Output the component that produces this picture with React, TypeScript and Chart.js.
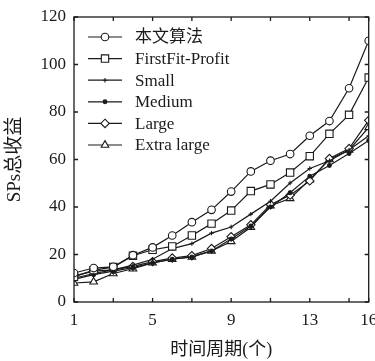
import { useEffect, useRef } from 'react';
import { Chart, registerables } from 'chart.js';

Chart.register(...registerables);

const periods = [1, 2, 3, 4, 5, 6, 7, 8, 9, 10, 11, 12, 13, 14, 15, 16];
const seriesNames = ['本文算法', 'FirstFit-Profit', 'Small', 'Medium', 'Large', 'Extra large'];
const oursValues = [12.2, 14.3, 14.8, 19.7, 23.0, 28.0, 33.6, 38.8, 46.5, 55.0, 59.5, 62.3, 70.0, 76.2, 90.0, 110.0];
const firstFitValues = [10.6, 13.4, 14.7, 19.5, 22.0, 23.4, 28.0, 33.0, 38.5, 46.7, 49.5, 54.5, 61.4, 70.8, 78.8, 94.5];
const smallValues = [10.0, 12.0, 13.5, 15.5, 18.0, 22.5, 24.6, 29.0, 31.6, 37.0, 42.4, 50.1, 56.2, 59.5, 64.0, 70.0];
const mediumValues = [9.5, 11.5, 13.0, 14.5, 16.5, 18.0, 19.0, 21.5, 26.5, 32.0, 40.0, 46.0, 53.0, 57.5, 62.5, 68.0];
const largeValues = [11.0, 13.0, 13.5, 15.0, 17.0, 18.5, 19.5, 22.5, 27.5, 32.5, 41.0, 45.0, 51.0, 60.4, 64.6, 76.5];
const extraLargeValues = [8.0, 8.5, 12.0, 14.0, 16.5, 18.0, 19.0, 21.5, 25.5, 31.5, 40.5, 43.6, 51.5, 60.0, 64.0, 73.5];
const xTickValues = [1, 5, 9, 13, 16];
const xMinorTickValues = [3, 7, 11, 15];
const yTickValues = [0, 20, 40, 60, 80, 100, 120];
const xTitle = '时间周期(个)';
const yTitle = 'SPs总收益';

const INK = '#1a1a1a';
const FONT_FAMILY = "'Liberation Serif', 'Noto Sans CJK SC', serif";

function drawMarker(ctx: CanvasRenderingContext2D, style: string, x: number, y: number, r: number, fill: string) {
  ctx.save();
  ctx.beginPath();
  ctx.fillStyle = fill;
  ctx.strokeStyle = INK;
  ctx.lineWidth = 1.1;
  if (style === 'circle') {
    ctx.arc(x, y, r, 0, Math.PI * 2);
    ctx.fill();
    ctx.stroke();
  } else if (style === 'rect') {
    const s = Math.SQRT1_2 * r;
    ctx.rect(x - s, y - s, 2 * s, 2 * s);
    ctx.fill();
    ctx.stroke();
  } else if (style === 'rectRot') {
    ctx.moveTo(x, y - r);
    ctx.lineTo(x + r, y);
    ctx.lineTo(x, y + r);
    ctx.lineTo(x - r, y);
    ctx.closePath();
    ctx.fill();
    ctx.stroke();
  } else if (style === 'triangle') {
    ctx.moveTo(x, y - r);
    ctx.lineTo(x + r * 0.866, y + r * 0.5);
    ctx.lineTo(x - r * 0.866, y + r * 0.5);
    ctx.closePath();
    ctx.fill();
    ctx.stroke();
  } else if (style === 'cross') {
    ctx.moveTo(x - r, y);
    ctx.lineTo(x + r, y);
    ctx.moveTo(x, y - r);
    ctx.lineTo(x, y + r);
    ctx.stroke();
  }
  ctx.restore();
}

const framePlugin = {
  id: 'frameTicksLegend',
  afterDraw(chart: any) {
    const { ctx, chartArea } = chart;
    const { left, right, top, bottom } = chartArea;
    const xs = chart.scales.x;
    const ys = chart.scales.y;
    ctx.save();
    ctx.strokeStyle = INK;
    ctx.lineWidth = 1.3;
    ctx.strokeRect(left, top, right - left, bottom - top);
    const tl = 4;
    ctx.beginPath();
    [...xTickValues, ...xMinorTickValues].forEach((v) => {
      const px = xs.getPixelForValue(v);
      ctx.moveTo(px, bottom);
      ctx.lineTo(px, bottom - tl);
      ctx.moveTo(px, top);
      ctx.lineTo(px, top + tl);
    });
    yTickValues.forEach((v) => {
      const py = ys.getPixelForValue(v);
      ctx.moveTo(left, py);
      ctx.lineTo(left + tl, py);
      ctx.moveTo(right, py);
      ctx.lineTo(right - tl, py);
    });
    ctx.stroke();

    // legend inside plot area
    ctx.font = `17px ${FONT_FAMILY}`;
    ctx.textBaseline = 'middle';
    ctx.textAlign = 'left';
    ctx.fillStyle = INK;
    chart.data.datasets.forEach((ds: any, i: number) => {
      const y = top + 20 + i * 21.6;
      const x0 = left + 14;
      const x1 = left + 48;
      ctx.beginPath();
      ctx.strokeStyle = INK;
      ctx.lineWidth = 1.2;
      ctx.moveTo(x0, y);
      ctx.lineTo(x1, y);
      ctx.stroke();
      drawMarker(ctx, ds.pointStyle, (x0 + x1) / 2, y, ds.pointRadius, ds.pointBackgroundColor);
      ctx.fillStyle = INK;
      ctx.fillText(ds.label, left + 61, y + 1);
    });
    ctx.restore();
  },
};

const seriesValues = [oursValues, firstFitValues, smallValues, mediumValues, largeValues, extraLargeValues];
const seriesStyles = [
  { pointStyle: 'circle', pointRadius: 3.8, fill: '#fff' },
  { pointStyle: 'rect', pointRadius: 5.2, fill: '#fff' },
  { pointStyle: 'cross', pointRadius: 2.2, fill: INK },
  { pointStyle: 'circle', pointRadius: 1.9, fill: INK },
  { pointStyle: 'rectRot', pointRadius: 4.2, fill: '#fff' },
  { pointStyle: 'triangle', pointRadius: 4.4, fill: '#fff' },
];

export default function App() {
  const canvasRef = useRef<HTMLCanvasElement | null>(null);

  useEffect(() => {
    document.body.style.margin = '0';
    const canvas = canvasRef.current;
    if (!canvas) return;
    const datasets = seriesNames.map((name, i) => ({
      label: name,
      data: periods.map((p, j) => ({ x: p, y: seriesValues[i][j] })),
      borderColor: INK,
      borderWidth: 1.2,
      pointStyle: seriesStyles[i].pointStyle,
      pointRadius: seriesStyles[i].pointRadius,
      pointBackgroundColor: seriesStyles[i].fill,
      pointBorderColor: INK,
      pointBorderWidth: 1.1,
      fill: false,
      tension: 0,
    }));
    const chart = new Chart(canvas, {
      type: 'line',
      data: { datasets },
      plugins: [framePlugin],
      options: {
        animation: false,
        responsive: false,
        layout: { padding: { top: 17, right: 5, left: 0, bottom: 0 } },
        plugins: { legend: { display: false }, tooltip: { enabled: false } },
        scales: {
          x: {
            type: 'linear',
            min: 1,
            max: 16,
            afterBuildTicks: (s: any) => {
              s.ticks = xTickValues.map((v) => ({ value: v }));
            },
            afterFit: (s: any) => {
              s.height = 59;
              s.paddingLeft = 0;
              s.paddingRight = 0;
            },
            grid: { display: false, drawTicks: false },
            border: { display: false },
            ticks: {
              padding: 8,
              color: INK,
              maxRotation: 0,
              autoSkip: false,
              font: { family: FONT_FAMILY, size: 17 },
              callback: (v: any) => String(v),
            },
            title: {
              display: true,
              text: xTitle,
              color: INK,
              font: { family: FONT_FAMILY, size: 18 },
              padding: { top: 0, bottom: 0 },
            },
          },
          y: {
            min: 0,
            max: 120,
            afterBuildTicks: (s: any) => {
              s.ticks = yTickValues.map((v) => ({ value: v }));
            },
            afterFit: (s: any) => {
              s.width = 74;
              s.paddingTop = 0;
              s.paddingBottom = 0;
            },
            grid: { display: false, drawTicks: false },
            border: { display: false },
            ticks: {
              padding: 8,
              color: INK,
              font: { family: FONT_FAMILY, size: 17 },
              callback: (v: any) => String(v),
            },
            title: {
              display: true,
              text: yTitle,
              color: INK,
              font: { family: FONT_FAMILY, size: 19 },
              padding: { top: 4, bottom: 0 },
            },
          },
        },
      },
    } as any);
    return () => chart.destroy();
  }, []);

  return (
    <div style={{ width: 375, height: 361, background: '#fff' }}>
      <canvas ref={canvasRef} width={375} height={361} />
    </div>
  );
}
